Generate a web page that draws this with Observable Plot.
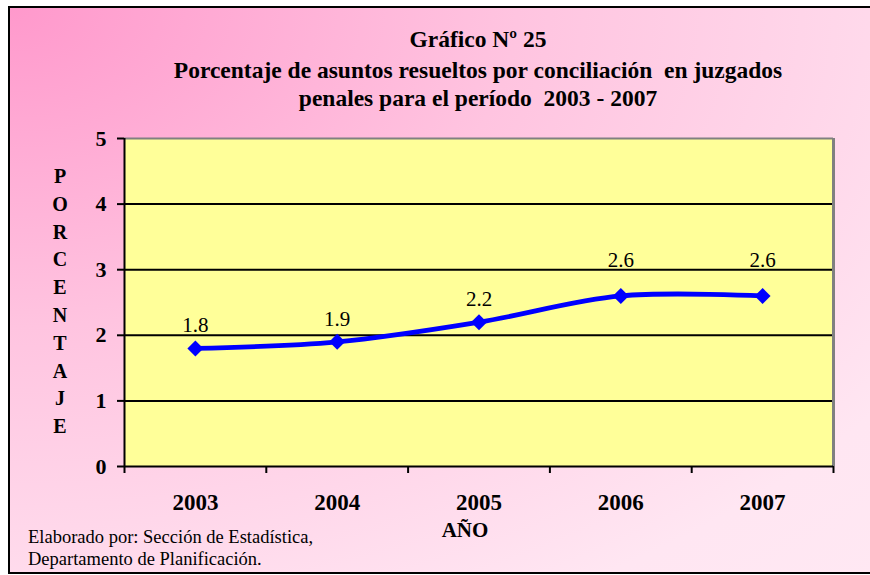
<!DOCTYPE html>
<html>
<head>
<meta charset="utf-8">
<script src="https://cdn.jsdelivr.net/npm/d3@7"></script>
<script src="https://cdn.jsdelivr.net/npm/@observablehq/plot@0.6"></script>
<style>
  html, body { margin: 0; background: #fff; overflow: hidden; }
  #wrap { position: relative; width: 870px; height: 575px; overflow: hidden;
          font-family: "Liberation Serif", "Times New Roman", serif; }
  #bg { position: absolute; left: 8px; top: 6px; width: 900px; height: 568px; box-sizing: border-box;
        border: 2px solid #000;
        background: radial-gradient(ellipse farthest-corner at 0% 0%, #FF99CC 0%, #FFC4E0 40%, #FFE6F2 85%, #FFE8F3 100%); }
  #chart { position: absolute; left: 0; top: 0; }
  #overlay { position: absolute; left: 0; top: 0; pointer-events: none; }
  #overlay text { font-family: "Liberation Serif", "Times New Roman", serif; fill: #000; white-space: pre; }
</style>
</head>
<body>
<div id="wrap">
  <div id="bg"></div>
  <div id="chart"></div>
  <svg id="overlay" width="870" height="575" xml:space="preserve">
    <text x="478" y="47" text-anchor="middle" font-weight="bold" font-size="23.5">Gráfico Nº 25</text>
    <text x="478" y="78" text-anchor="middle" font-weight="bold" font-size="23.5">Porcentaje de asuntos resueltos por conciliación  en juzgados</text>
    <text x="478" y="106" text-anchor="middle" font-weight="bold" font-size="23.5">penales para el período  2003 - 2007</text>
    <text id="ytitle" x="60" y="183" text-anchor="middle" font-weight="bold" font-size="20"></text>
    <text x="465" y="537" text-anchor="middle" font-weight="bold" font-size="21">AÑO</text>
    <text x="28" y="543" font-size="18.5">Elaborado por: Sección de Estadística,</text>
    <text x="28" y="565" font-size="18.5">Departamento de Planificación.</text>
  </svg>
</div>
<script>
// ---- Data ----
const years = ["2003", "2004", "2005", "2006", "2007"];
const values = [1.8, 1.9, 2.2, 2.6, 2.6];
const yTicks = [0, 1, 2, 3, 4, 5];
const yTitle = "PORCENTAJE";

const data = years.map((year, i) => ({i, year, v: values[i]}));

// vertical stacked y-axis title
const yt = document.getElementById("ytitle");
yTitle.split("").forEach((ch, k) => {
  const ts = document.createElementNS("http://www.w3.org/2000/svg", "tspan");
  ts.setAttribute("x", 60);
  if (k > 0) ts.setAttribute("dy", 27.8);
  ts.textContent = ch;
  yt.appendChild(ts);
});

// layout
const W = 870, H = 575, mL = 124, mR = 37, mT = 138, mB = 109;
const yMax = 5;
const pxPerUnit = (H - mT - mB) / yMax;
const labelFont = 21;
// Data labels sit above each point; a label that would be crossed by a
// gridline is lifted to sit just above that gridline (as in the original).
function labelY(v) {
  let base = v + 16 / pxPerUnit;              // baseline (value units)
  const top = base + 14 / pxPerUnit;          // top of digits
  const hit = yTicks.find(g => g > base && g < top);
  if (hit !== undefined) base = hit + 3 / pxPerUnit;
  return base + (0.32 * labelFont) / pxPerUnit; // middle-anchored text
}

const n = years.length;
const chart = Plot.plot({
  width: W,
  height: H,
  marginLeft: mL,
  marginRight: mR,
  marginTop: mT,
  marginBottom: mB,
  style: {background: "transparent", fontFamily: "Liberation Serif, Times New Roman, serif", color: "black", overflow: "visible"},
  x: {domain: [-0.5, n - 0.5]},
  y: {domain: [0, yMax]},
  marks: [
    Plot.frame({fill: "#FFFF99", stroke: "none"}),
    Plot.ruleY(yTicks.filter(t => t > 0 && t < yMax), {stroke: "black", strokeWidth: 2}),
    Plot.ruleY([yMax], {stroke: "#808080", strokeWidth: 2}),
    Plot.ruleX([n - 0.5], {stroke: "#808080", strokeWidth: 3}),
    Plot.ruleX([-0.5], {stroke: "black", strokeWidth: 2}),
    Plot.ruleY([0], {stroke: "black", strokeWidth: 2}),
    Plot.axisY({ticks: yTicks, tickSize: 7, tickPadding: 11, tickFormat: d => String(d),
                fontSize: 22, fontWeight: "bold", strokeWidth: 2, label: null}),
    Plot.axisX({ticks: d3.range(-0.5, n, 1), tickSize: 7, tickFormat: () => "", strokeWidth: 2, label: null}),
    Plot.axisX({ticks: d3.range(n), tickSize: 0, tickPadding: 27, tickFormat: i => years[i],
                fontSize: 23, fontWeight: "bold", label: null}),
    Plot.line(data, {x: "i", y: "v", curve: "catmull-rom", stroke: "#0000FF", strokeWidth: 4.8}),
    Plot.dot(data, {x: "i", y: "v", symbol: "diamond2", r: 7.2, fill: "#0000FF", stroke: "none"}),
    Plot.text(data, {x: "i", y: d => labelY(d.v), text: d => d.v.toFixed(1), fontSize: labelFont, fill: "black"})
  ]
});
document.getElementById("chart").appendChild(chart);
</script>
</body>
</html>
